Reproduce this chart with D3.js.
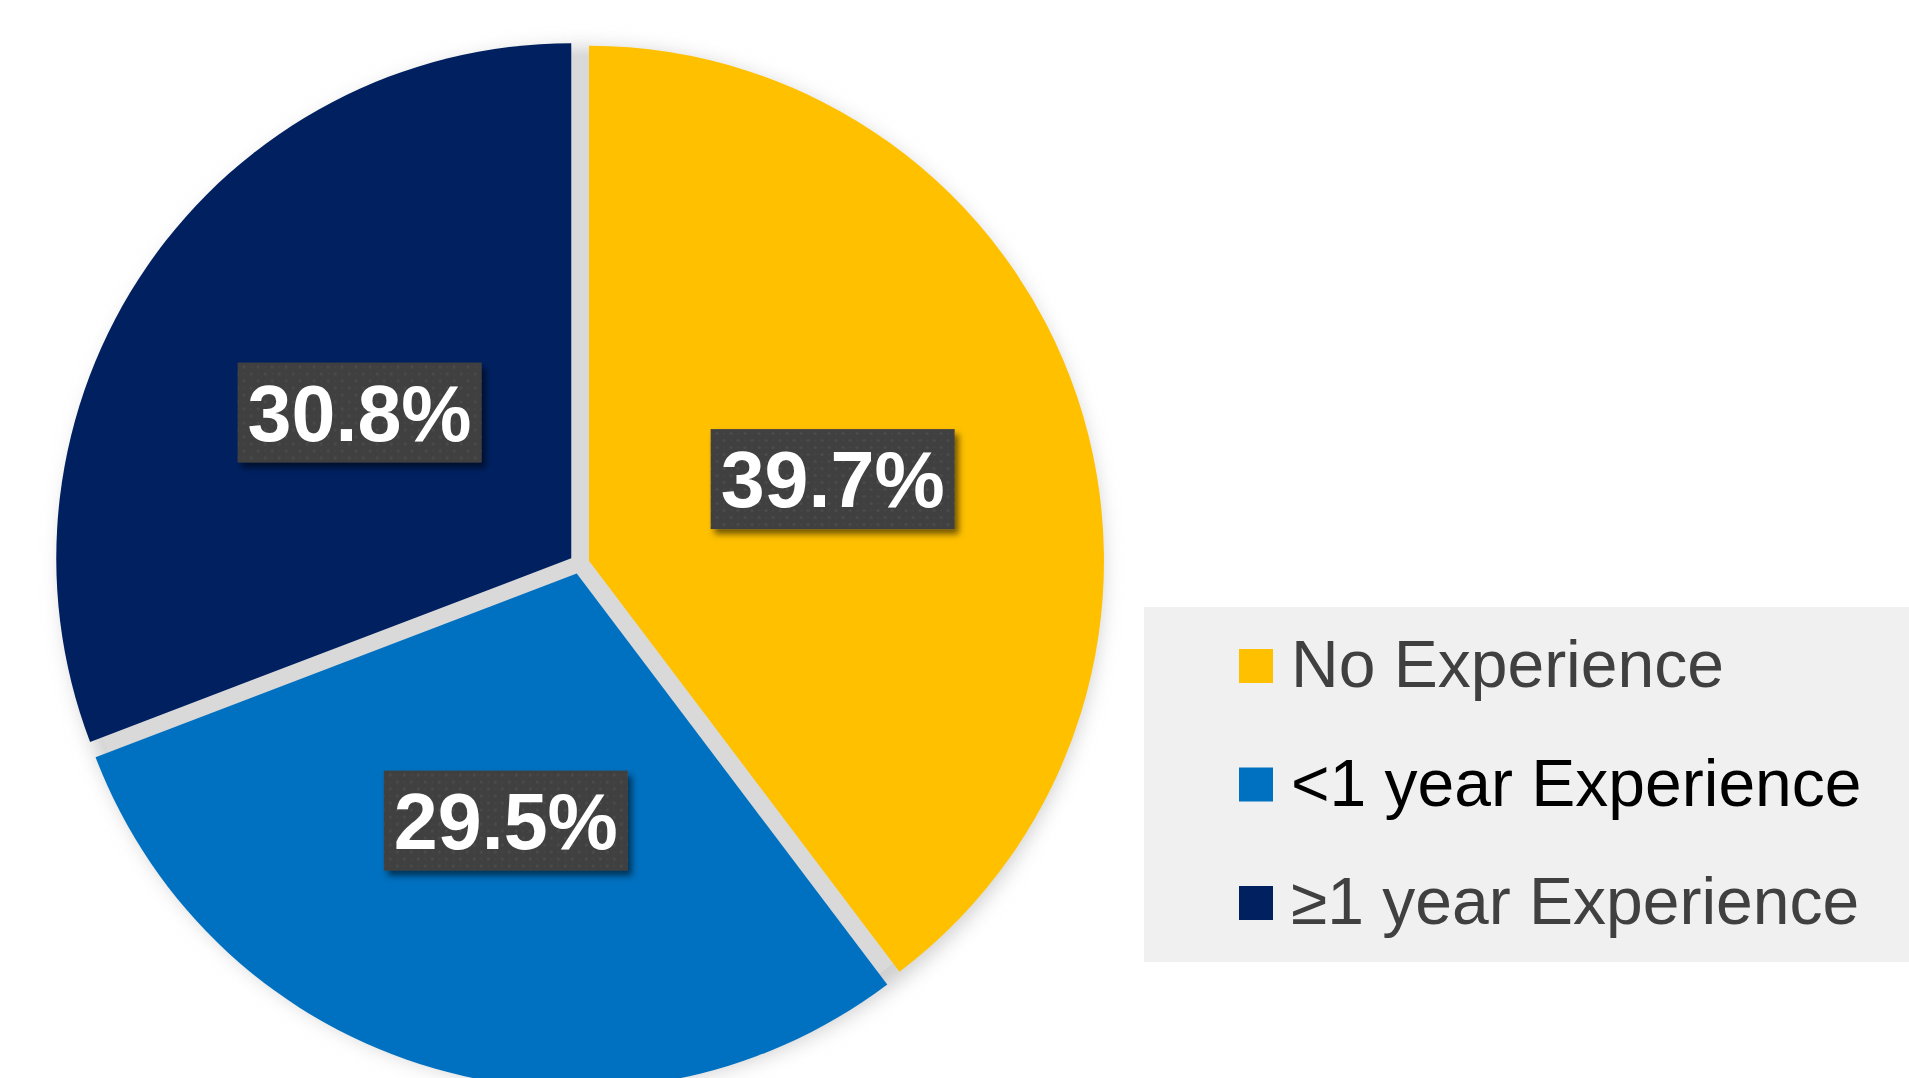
<!DOCTYPE html>
<html><head><meta charset="utf-8">
<script src="https://cdn.jsdelivr.net/npm/d3@7"></script>
<style>html,body{margin:0;padding:0;background:#fff;overflow:hidden}svg{display:block}</style>
</head><body>
<script>
const categories = ["No Experience", "<1 year Experience", "\u22651 year Experience"];
const values = [39.7, 29.5, 30.8];
const labels = ["39.7%", "29.5%", "30.8%"];
const colors = ["#FFC000", "#0070C0", "#002060"];
const legendTextColors = ["#404040", "#000000", "#404040"];

const W = 1909, H = 1078;
const cx = 579.5, cy = 564, R = 515, explode = 10, labelR = 267;

const svg = d3.select("body").append("svg").attr("width", W).attr("height", H);
const defs = svg.append("defs");
defs.append("filter").attr("id", "halo").attr("x", "-20%").attr("y", "-20%").attr("width", "140%").attr("height", "140%")
  .append("feGaussianBlur").attr("stdDeviation", 10);
const ds = defs.append("filter").attr("id", "boxShadow").attr("x", "-20%").attr("y", "-20%").attr("width", "150%").attr("height", "150%");
ds.append("feDropShadow").attr("dx", 4).attr("dy", 5).attr("stdDeviation", 3).attr("flood-color", "#000").attr("flood-opacity", 0.55);
const pat = defs.append("pattern").attr("id", "dots").attr("patternUnits", "userSpaceOnUse").attr("width", 14).attr("height", 14);
pat.append("rect").attr("width", 14).attr("height", 14).attr("fill", "#404040");
pat.append("circle").attr("cx", 3.5).attr("cy", 3.5).attr("r", 1.4).attr("fill", "#4c4c4c");
pat.append("circle").attr("cx", 10.5).attr("cy", 10.5).attr("r", 1.4).attr("fill", "#4c4c4c");
pat.append("circle").attr("cx", 10.5).attr("cy", 3.5).attr("r", 1).attr("fill", "#474747");
pat.append("circle").attr("cx", 3.5).attr("cy", 10.5).attr("r", 1).attr("fill", "#474747");

// background gray disc with soft halo
const g = svg.append("g").attr("transform", `translate(${cx},${cy})`);
g.append("circle").attr("cx", 3).attr("cy", 4).attr("r", 520).attr("fill", "#cfcfcf").attr("filter", "url(#halo)");
g.append("circle").attr("r", 508).attr("fill", "#d9d9d9");

const pie = d3.pie().sort(null).value(d => d)(values);
const arc = d3.arc().innerRadius(0).outerRadius(R);
const mid = d => (d.startAngle + d.endAngle) / 2;

g.selectAll("path.slice").data(pie).enter().append("path")
  .attr("class", "slice")
  .attr("d", arc)
  .attr("fill", (d, i) => colors[i])
  .attr("transform", d => `translate(${explode * Math.sin(mid(d))},${-explode * Math.cos(mid(d))})`);

// data labels
const labelArc = d3.arc().innerRadius(labelR).outerRadius(labelR);
const lg = g.selectAll("g.lbl").data(pie).enter().append("g").attr("class", "lbl")
  .attr("transform", d => { const c = labelArc.centroid(d); return `translate(${c[0]},${c[1]})`; });
const bw = 244, bh = 100;
lg.append("rect").attr("x", -bw / 2).attr("y", -bh / 2).attr("width", bw).attr("height", bh)
  .attr("fill", "url(#dots)").attr("filter", "url(#boxShadow)");
lg.append("text").attr("text-anchor", "middle").attr("y", 28)
  .attr("font-family", "'Liberation Sans', Arial, sans-serif").attr("font-weight", "bold").attr("font-size", 79)
  .attr("fill", "#fff").text((d, i) => labels[i]);

// legend
const legend = svg.append("g");
legend.append("rect").attr("x", 1144).attr("y", 607).attr("width", W - 1144).attr("height", 355).attr("fill", "#f0f0f0");
const items = legend.selectAll("g.item").data(categories).enter().append("g").attr("class", "item")
  .attr("transform", (d, i) => `translate(1239,${649 + i * 118.5})`);
items.append("rect").attr("width", 34).attr("height", 34).attr("fill", (d, i) => colors[i]);
items.append("text").attr("x", 52).attr("y", 38)
  .attr("font-family", "'Liberation Sans', Arial, sans-serif").attr("font-size", 66)
  .attr("fill", (d, i) => legendTextColors[i]).text(d => d);
</script>
</body></html>
